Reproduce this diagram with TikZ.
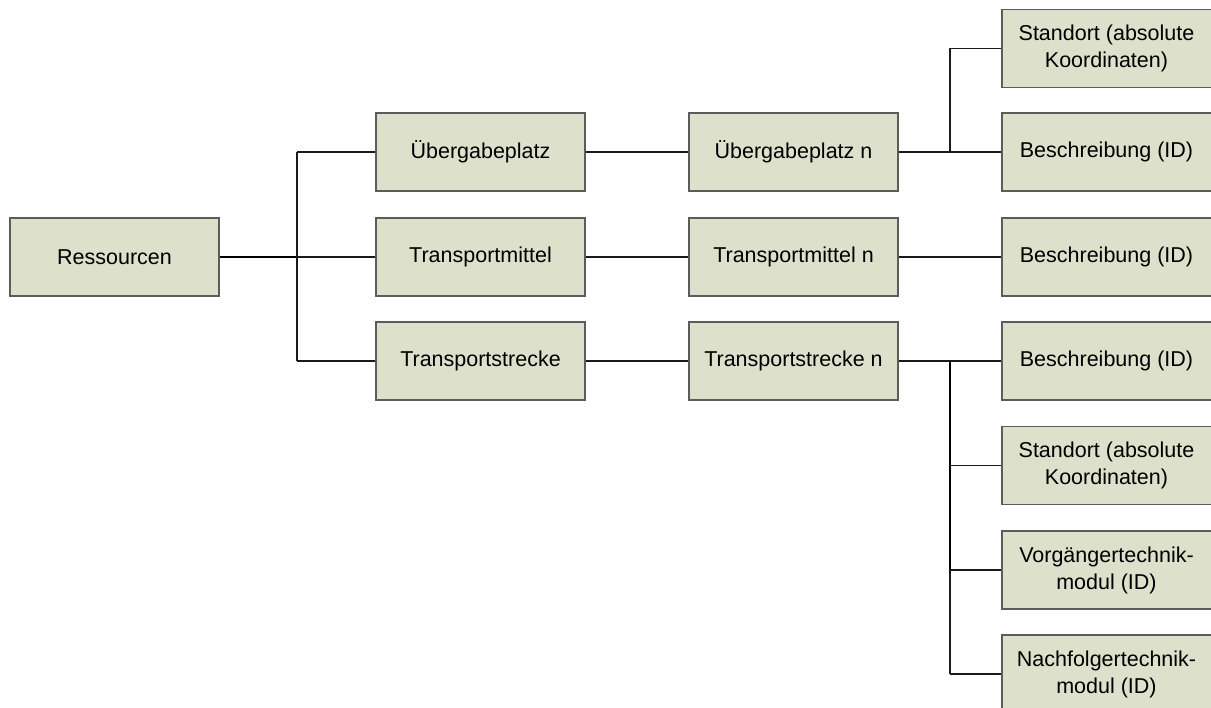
\documentclass[tikz,border=0pt]{standalone}
\usepackage{fontspec}
\setmainfont{Liberation Sans}
\definecolor{boxfill}{HTML}{DDE0CB}
\definecolor{boxline}{HTML}{5C5C5C}
\definecolor{wire}{HTML}{1A1A1A}
\begin{document}
\begin{tikzpicture}[x=1pt,y=-1pt,
  item/.style={draw=boxline,line width=1.4pt,fill=boxfill,minimum width=209pt,
    minimum height=78pt,inner sep=2pt,align=center,
    font=\fontsize{21.5}{27}\selectfont},
  edgeitem/.style={item,minimum width=214pt},
  link/.style={draw=wire,line width=1.3pt},
  trunk/.style={draw=black,line width=2pt}]
\useasboundingbox (0,0) rectangle (1211,708);
\clip (0,0) rectangle (1211,708);

% root
\node[item] (res) at (114.5,257) {Ressourcen};

% first level
\node[item] (ueb) at (480.5,152) {Übergabeplatz};
\node[item] (tm)  at (480.5,257) {Transportmittel};
\node[item] (ts)  at (480.5,361) {Transportstrecke};

% second level
\node[item] (uebn) at (793.5,152) {Übergabeplatz n};
\node[item] (tmn)  at (793.5,257) {Transportmittel n};
\node[item] (tsn)  at (793.5,361) {Transportstrecke n};

% attributes (right column runs past the page edge)
\node[edgeitem] (std1) at (1109,48.5) {\hspace*{-5pt}Standort (absolute\\\hspace*{-5pt}Koordinaten)};
\node[edgeitem] (bes1) at (1109,152) {\hspace*{-5pt}Beschreibung (ID)};
\node[edgeitem] (bes2) at (1109,257) {\hspace*{-5pt}Beschreibung (ID)};
\node[edgeitem] (bes3) at (1109,361) {\hspace*{-5pt}Beschreibung (ID)};
\node[edgeitem] (std2) at (1109,465.5) {\hspace*{-5pt}Standort (absolute\\\hspace*{-5pt}Koordinaten)};
\node[edgeitem] (vor)  at (1109,570) {\hspace*{-5pt}Vorgängertechnik-\\\hspace*{-5pt}modul (ID)};
\node[edgeitem] (nach) at (1109,674) {\hspace*{-5pt}Nachfolgertechnik-\\\hspace*{-5pt}modul (ID)};

% branch points
\coordinate (b0) at (297,257);
\coordinate (b0t) at (297,152);
\coordinate (b0b) at (297,361);
\coordinate (b1) at (950,152);
\coordinate (b1t) at (950,48.5);
\coordinate (b3) at (950,361);
\coordinate (b3a) at (950,465.5);
\coordinate (b3b) at (950,570);
\coordinate (b3c) at (950,674);

% root to first level
\draw[trunk] (res.east) -- (b0);
\draw[link] (b0t) -- (b0b);
\draw[link] (b0t) -- (ueb.west);
\draw[link] (b0) -- (tm.west);
\draw[link] (b0b) -- (ts.west);

% first to second level
\draw[link] (ueb.east) -- (uebn.west);
\draw[link] (tm.east) -- (tmn.west);
\draw[link] (ts.east) -- (tsn.west);

% second level to attributes
\draw[link] (uebn.east) -- (bes1.west);
\draw[link] (b1) -- (b1t) -- (std1.west);
\draw[link] (tmn.east) -- (bes2.west);
\draw[link] (tsn.east) -- (bes3.west);
\draw[trunk] (b3) -- (b3b);
\draw[link] (b3b) -- (b3c);
\draw[link] (b3a) -- (std2.west);
\draw[link] (b3b) -- (vor.west);
\draw[link] (b3c) -- (nach.west);
\end{tikzpicture}
\end{document}
